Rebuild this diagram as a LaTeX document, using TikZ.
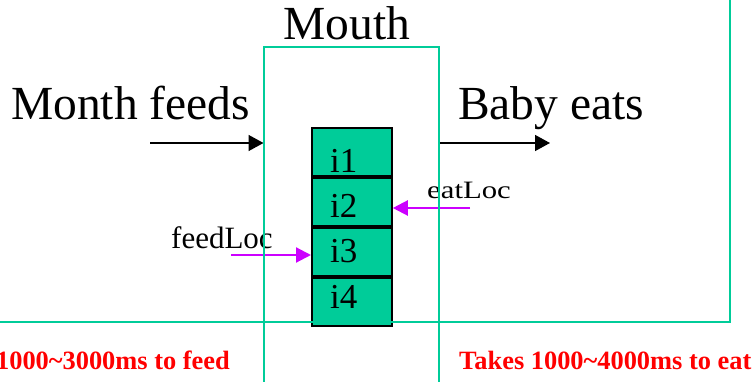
\documentclass[tikz,border=0pt]{standalone}
\usepackage{fontspec}
\setmainfont{Liberation Serif}
\usetikzlibrary{arrows.meta}
\definecolor{mgreen}{HTML}{00CC99}
\definecolor{mmag}{HTML}{CC00FF}
\definecolor{mred}{HTML}{FF0000}
\tikzset{
  greenline/.style={draw=mgreen, line width=2pt},
  blackarrow/.style={line width=1.5pt, -{Triangle[length=15pt,width=16pt]}},
  magarrow/.style={draw=mmag, line width=2.2pt, -{Triangle[length=15pt,width=15pt]}, color=mmag},
  cellbox/.style={draw=black, fill=mgreen, line width=1.8pt, minimum width=80pt, minimum height=48.25pt, inner sep=0pt, anchor=north west},
  bigtext/.style={inner sep=0pt, font=\fontsize{47.5}{50}\selectfont},
  celltext/.style={inner sep=0pt, anchor=base west, font=\fontsize{35}{38}\selectfont},
  loctext/.style={inner sep=0pt, anchor=base west, font=\fontsize{31}{34}\selectfont},
  redtext/.style={inner sep=0pt, text=mred, font=\bfseries\fontsize{26.4}{28}\selectfont},
}
\begin{document}
\begin{tikzpicture}[x=1pt,y=-1pt]
\useasboundingbox (0,0) rectangle (755,382);
% invisible frame nodes
\node[minimum width=175pt, minimum height=352.5pt, inner sep=0pt, anchor=north west] (mouthbox) at (263.5,47.5) {};
\coordinate (bigcorner) at (730,322);
\coordinate (bigtop) at (730,-10);
\coordinate (bigleft) at (-10,322);
% titles
\node[bigtext, anchor=base] (mouth) at (347,40) {Mouth};
\node[bigtext, anchor=base west] (feeds) at (11,120) {Month feeds};
\node[bigtext, anchor=base west] (eats) at (458,120) {Baby eats};
% black arrows
\coordinate (fa) at (150,143);
\coordinate (ea) at (550,143);
\draw[blackarrow] (fa) -- (mouthbox.west |- fa);
\draw[blackarrow] (mouthbox.east |- ea) -- (ea);
% stack
\node[cellbox] (c1) at (311,127) {};
\node[cellbox] (c2) at (c1.south west) {};
\node[cellbox] (c3) at (c2.south west) {};
\node[cellbox] (c4) at (c3.south west) {};
\node[celltext] (l1) at (330,173) {i1};
\node[celltext] (l2) at (330,218) {i2};
\node[celltext] (l3) at (330,262) {i3};
\node[celltext] (l4) at (330,308) {i4};
% locators
\node[inner sep=0pt, anchor=base west, font=\fontsize{25}{28}\selectfont] (eatloc) at (427,199) {\scalebox{1.23}[1]{eatLoc}};
\node[loctext] (feedloc) at (171,248) {feedLoc};
\coordinate (eatstart) at (470,208);
\coordinate (feedstart) at (231,255);
\draw[magarrow] (eatstart) -- (c2.east |- eatstart);
\draw[magarrow] (feedstart) -- (c3.west |- feedstart);
% red notes
\node[redtext, anchor=base east] (feednote) at (230,369) {1000\textasciitilde3000ms to feed};
\node[redtext, anchor=base west] (eatnote) at (459,369) {Takes 1000\textasciitilde4000ms to eat};
% green frames on top
\draw[greenline] (bigleft) -- (bigcorner) -- (bigtop);
\draw[greenline] (mouthbox.south west) |- (mouthbox.north east) -- (mouthbox.south east);
\end{tikzpicture}
\end{document}
